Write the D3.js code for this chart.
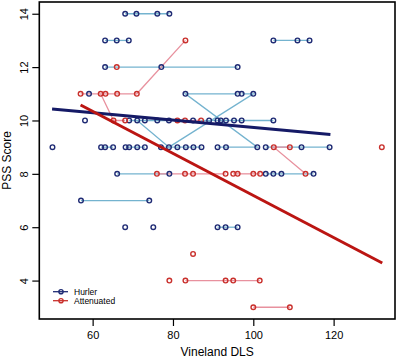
<!DOCTYPE html>
<html>
<head>
<meta charset="utf-8">
<script src="https://cdn.jsdelivr.net/npm/d3@7"></script>
<style>
  body { margin: 0; background: #fff; }
  svg text { font-family: "Liberation Sans", Arial, sans-serif; }
</style>
</head>
<body>
<div id="chart"></div>
<script>
// each subject = list of [Vineland DLS, PSS score] visits, joined in order
var hurler = [
  [[68.1,14],[70.9,14],[76.1,14],[79.1,14]],
  [[63.1,13],[66.0,13],[69.0,13]],
  [[105.0,13],[111.0,13],[114.0,13]],
  [[63.1,12],[77.1,12],[96.1,12]],
  [[59.1,11]],
  [[91.1,9],[93.2,9],[101.0,9],[83.1,11],[96.1,11]],
  [[71.1,10],[79.0,9],[100.0,11],[97.1,11]],
  [[58.1,10]],
  [[69.1,10],[73.0,10],[76.1,10],[79.0,10]],
  [[85.0,10],[89.0,10],[91.1,10]],
  [[91.9,10],[93.2,10],[95.2,10],[97.1,10],[105.0,10]],
  [[50.0,9]],
  [[62.1,9],[63.1,9],[65.1,9]],
  [[68.2,9],[69.1,9],[71.1,9],[73.0,9]],
  [[77.0,9],[81.1,9],[83.2,9],[85.1,9],[87.1,9]],
  [[103.1,9],[112.0,9],[119.0,9]],
  [[66.1,8],[79.1,8]],
  [[103.1,8],[105.0,8],[107.0,8],[115.0,8]],
  [[57.1,7],[74.1,7]],
  [[68.1,6]],
  [[75.1,6]],
  [[91.1,6],[93.1,6],[96.1,6]]
];

var attenuated = [
  [[57.0,11],[63.2,11],[66.1,11],[71.0,11],[83.1,13]],
  [[62.0,11],[65.2,10],[68.1,10]],
  [[66.0,12]],
  [[109.1,9],[105.1,9],[113.0,8]],
  [[132.0,9]],
  [[76.0,8],[83.0,8],[85.0,8],[93.1,8]],
  [[95.0,8],[96.1,8],[100.0,8],[101.7,8]],
  [[85.0,5]],
  [[79.1,4]],
  [[83.1,4],[93.1,4],[95.0,4],[101.6,4]],
  [[100.0,3],[109.1,3]],
  [[81.1,10],[83.0,10],[87.0,10]]
];

// fitted lines (end points)
var hurlerFit = [[49.9,10.43],[119.2,9.47]];
var attenuatedFit = [[57.0,10.58],[132.1,4.66]];

var xTicks = [60, 80, 100, 120];
var yTicks = [4, 6, 8, 10, 12, 14];
var legendLabels = ["Hurler", "Attenuated"];

var W = 398, H = 358;
var plot = {left: 39.3, right: 395, top: 2, bottom: 319};

var svg = d3.select("#chart").append("svg")
    .attr("width", W)
    .attr("height", H);

var x = d3.scaleLinear().domain([46.72, 135.28]).range([plot.left, plot.right]);
var y = d3.scaleLinear().domain([2.56, 14.44]).range([plot.bottom, plot.top]);

var colors = {
    hurler: {pt: "#1f2b74", ln: "#74b3cf", fit: "#151a66"},
    atten: {pt: "#c9302c", ln: "#e8919e", fit: "#bb1512"}
};

var line = d3.line()
    .x(function (d) { return x(d[0]); })
    .y(function (d) { return y(d[1]); });

// subject lines first
function drawLines(data, col) {
    svg.append("g").selectAll("path")
        .data(data.filter(function (s) { return s.length > 1; }))
        .enter().append("path")
        .attr("d", line)
        .attr("fill", "none")
        .attr("stroke", col)
        .attr("stroke-width", 1.3);
}
drawLines(hurler, colors.hurler.ln);
drawLines(attenuated, colors.atten.ln);

function drawPoints(data, col) {
    svg.append("g").selectAll("circle")
        .data(d3.merge(data))
        .enter().append("circle")
        .attr("cx", function (d) { return x(d[0]); })
        .attr("cy", function (d) { return y(d[1]); })
        .attr("r", 2.3)
        .attr("fill", "none")
        .attr("stroke", col)
        .attr("stroke-width", 1.4);
}
drawPoints(hurler, colors.hurler.pt);
drawPoints(attenuated, colors.atten.pt);

// regression lines
svg.append("path").attr("d", line(hurlerFit))
    .attr("stroke", colors.hurler.fit).attr("stroke-width", 3).attr("fill", "none");
svg.append("path").attr("d", line(attenuatedFit))
    .attr("stroke", colors.atten.fit).attr("stroke-width", 3).attr("fill", "none");

// box
svg.append("rect")
    .attr("x", plot.left).attr("y", plot.top)
    .attr("width", plot.right - plot.left)
    .attr("height", plot.bottom - plot.top)
    .attr("fill", "none")
    .attr("stroke", "#000")
    .attr("stroke-width", 1.6);

// axes
var yAxis = svg.append("g")
    .attr("transform", "translate(" + plot.left + ",0)")
    .call(d3.axisLeft(y).tickValues(yTicks).tickSize(7).tickFormat(d3.format("d")));
yAxis.select(".domain").remove();
yAxis.selectAll("line").attr("stroke-width", 1.2);
yAxis.selectAll("text")
    .attr("transform", "rotate(-90)")
    .attr("x", 0).attr("y", -11.5).attr("dy", 0)
    .attr("text-anchor", "middle")
    .attr("font-size", "11px")
    .attr("font-family", "Liberation Sans, Arial, sans-serif")
    .attr("fill", "#000");

var xAxis = svg.append("g")
    .attr("transform", "translate(0," + plot.bottom + ")")
    .call(d3.axisBottom(x).tickValues(xTicks).tickSize(7).tickFormat(d3.format("d")));
xAxis.select(".domain").remove();
xAxis.selectAll("line").attr("stroke-width", 1.2);
xAxis.selectAll("text")
    .attr("y", 20.3).attr("dy", 0)
    .attr("font-size", "11px")
    .attr("font-family", "Liberation Sans, Arial, sans-serif")
    .attr("fill", "#000");

// axis titles
svg.append("text")
    .attr("x", (plot.left + plot.right) / 2)
    .attr("y", 356)
    .attr("text-anchor", "middle")
    .attr("font-size", "12px")
    .text("Vineland DLS");

svg.append("text")
    .attr("transform", "translate(11," + ((plot.top + plot.bottom) / 2) + ") rotate(-90)")
    .attr("text-anchor", "middle")
    .attr("font-size", "12px")
    .text("PSS Score");

// legend
var legend = svg.append("g").selectAll("g")
    .data(legendLabels)
    .enter().append("g")
    .attr("transform", function (d, i) { return "translate(0," + (291.7 + i * 9) + ")"; });

legend.append("line")
    .attr("x1", 53).attr("x2", 68)
    .attr("stroke", function (d, i) { return i ? colors.atten.pt : colors.hurler.pt; })
    .attr("stroke-width", 1.3);
legend.append("circle")
    .attr("cx", 61).attr("r", 2.1)
    .attr("fill", "none")
    .attr("stroke", function (d, i) { return i ? colors.atten.pt : colors.hurler.pt; })
    .attr("stroke-width", 1.4);
legend.append("text")
    .attr("x", 74).attr("dy", "0.33em")
    .attr("font-size", "8.5px")
    .text(function (d) { return d; });
</script>
</body>
</html>
